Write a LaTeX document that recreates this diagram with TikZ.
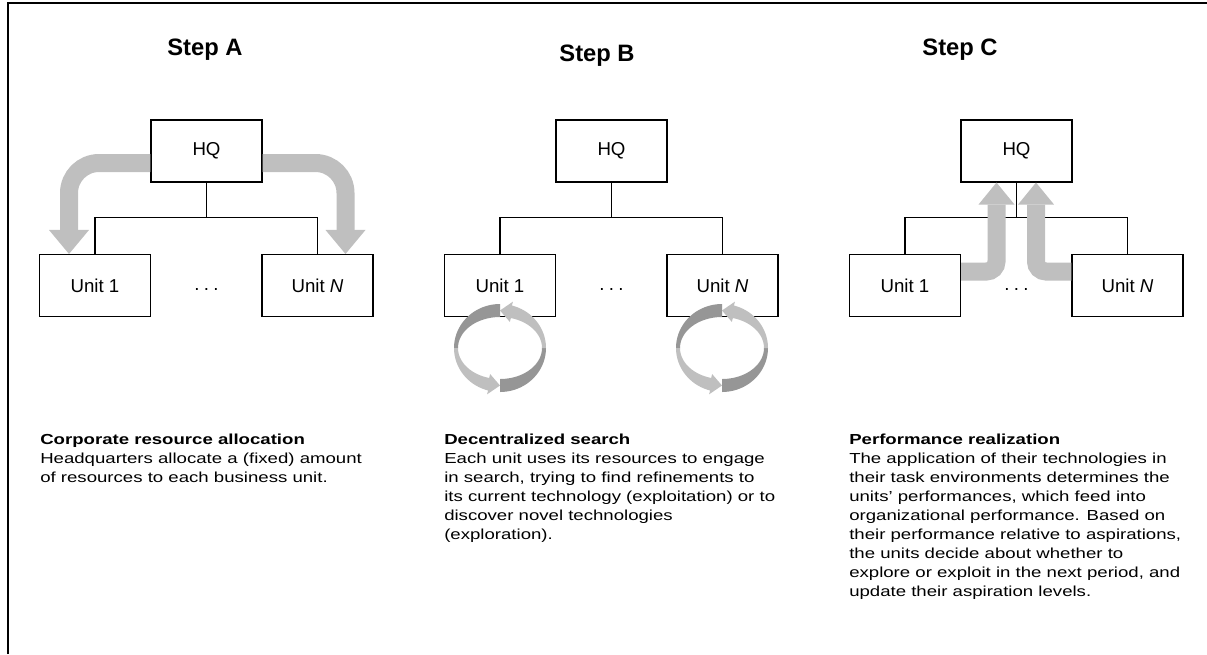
\documentclass[tikz,border=0pt]{standalone}
\usepackage{fontspec}
\setmainfont{Liberation Sans}
\newfontfamily\bodyfont[FakeStretch=1.28]{Liberation Sans}
\usetikzlibrary{arrows.meta,calc}
\definecolor{lgray}{RGB}{191,191,191}
\definecolor{dgray}{RGB}{150,150,150}
\newcommand{\cyclearrows}[1]{%
\begin{scope}[shift={(#1,348)}]
 \fill[dgray] plot[domain=90:180,samples=25] ({46*cos(\x)},{-44*sin(\x)}) -- plot[domain=180:90,samples=25] ({42*cos(\x)},{-31*sin(\x)}) -- cycle;
 \fill[dgray] plot[domain=270:360,samples=25] ({46*cos(\x)},{-44*sin(\x)}) -- plot[domain=360:270,samples=25] ({42*cos(\x)},{-31*sin(\x)}) -- cycle;
 \fill[lgray] plot[domain=0:75,samples=25] ({46*cos(\x)},{-44*sin(\x)}) -- ({50*cos(75)},{-48*sin(75)}) -- (0,-37.5) -- ({38*cos(75)},{-27*sin(75)}) -- plot[domain=75:0,samples=25] ({42*cos(\x)},{-31*sin(\x)}) -- cycle;
 \fill[lgray] plot[domain=180:255,samples=25] ({46*cos(\x)},{-44*sin(\x)}) -- ({50*cos(255)},{-48*sin(255)}) -- (0,37.5) -- ({38*cos(255)},{-27*sin(255)}) -- plot[domain=255:180,samples=25] ({42*cos(\x)},{-31*sin(\x)}) -- cycle;
\end{scope}}
\newcommand{\spreaddots}{.\hspace{3.2pt}.\hspace{3.2pt}.}
\begin{document}
\begin{tikzpicture}[x=0.75pt,y=-0.75pt,
  box/.style={draw, line width=0.8pt, minimum width=83.25pt, minimum height=46.5pt, inner sep=0pt, font=\fontsize{14}{16}\selectfont, fill=white},
  tree/.style={line width=0.8pt},
  steptitle/.style={anchor=base, inner sep=0pt, font=\bfseries\fontsize{17.8}{20}\selectfont},
  desc/.style={anchor=north west, inner sep=0pt, align=left, font=\bodyfont\fontsize{10.9}{14.25}\selectfont},
  ellip/.style={anchor=base, inner sep=0pt, font=\fontsize{14}{16}\selectfont},
  bigarrowA/.style={lgray, line width=13.5pt, rounded corners=22.5pt, -{Triangle[width=30pt,length=18pt,line width=0pt]}},
  bigarrowC/.style={lgray, line width=13.5pt, rounded corners=7.5pt, -{Triangle[width=27pt,length=16.5pt,line width=0pt]}}
]
\useasboundingbox (0,0) rectangle (1207,654);
% frame
\draw[line width=1.5pt] (7.7,654) -- (7.7,3) -- (1207,3);

% titles
\node[steptitle] (tA) at (205,55) {Step A};
\node[steptitle] (tB) at (597,61) {Step B};
\node[steptitle] (tC) at (960,55) {Step C};

% Step A
\node[box] (A-HQ) at (206.5,151) {HQ};
\node[box] (A-U1) at (95,285.5) {Unit 1};
\node[box] (A-UN) at (317.5,285.5) {Unit \textit{N}};
\node[ellip] (A-dots) at (206.5,290) {\spreaddots};
\draw[tree] (A-U1.north) |- ($(A-HQ.south)+(0,35)$) -| (A-UN.north);
\draw[tree] (A-HQ.south) -- ++(0,35);
\draw[bigarrowA] ($(A-HQ.west)+(0,12)$) -| ($(A-U1.north)+(-26,0)$);
\draw[bigarrowA] ($(A-HQ.east)+(0,12)$) -| ($(A-UN.north)+(28,0)$);

% Step B
\node[box] (B-HQ) at (611.5,151) {HQ};
\node[box] (B-U1) at (500,285.5) {Unit 1};
\node[box] (B-UN) at (722.5,285.5) {Unit \textit{N}};
\node[ellip] (B-dots) at (611.5,290) {\spreaddots};
\draw[tree] (B-U1.north) |- ($(B-HQ.south)+(0,35)$) -| (B-UN.north);
\draw[tree] (B-HQ.south) -- ++(0,35);
\cyclearrows{500}
\cyclearrows{722}

% Step C
\node[box] (C-HQ) at (1016.5,151) {HQ};
\node[box] (C-U1) at (905,285.5) {Unit 1};
\node[box] (C-UN) at (1127.5,285.5) {Unit \textit{N}};
\node[ellip] (C-dots) at (1016.5,290) {\spreaddots};
\draw[tree] (C-U1.north) |- ($(C-HQ.south)+(0,35)$) -| (C-UN.north);
\draw[tree] (C-HQ.south) -- ++(0,35);
\draw[bigarrowC] ($(C-U1.east)+(0,-14)$) -| ($(C-HQ.south)+(-20,0)$);
\draw[bigarrowC] ($(C-UN.west)+(0,-14)$) -| ($(C-HQ.south)+(19.5,0)$);

% descriptions
\node[desc] (dA) at (40,433.5) {\textbf{Corporate resource allocation}\\Headquarters allocate a (fixed) amount\\of resources to each business unit.};
\node[desc] (dB) at (444,433.5) {\textbf{Decentralized search}\\Each unit uses its resources to engage\\in search, trying to find refinements to\\its current technology (exploitation) or to\\discover novel technologies\\(exploration).};
\node[desc] (dC) at (849,433.5) {\textbf{Performance realization}\\The application of their technologies in\\their task environments determines the\\units’ performances, which feed into\\organizational performance. Based on\\their performance relative to aspirations,\\the units decide about whether to\\explore or exploit in the next period, and\\update their aspiration levels.};
\end{tikzpicture}
\end{document}
